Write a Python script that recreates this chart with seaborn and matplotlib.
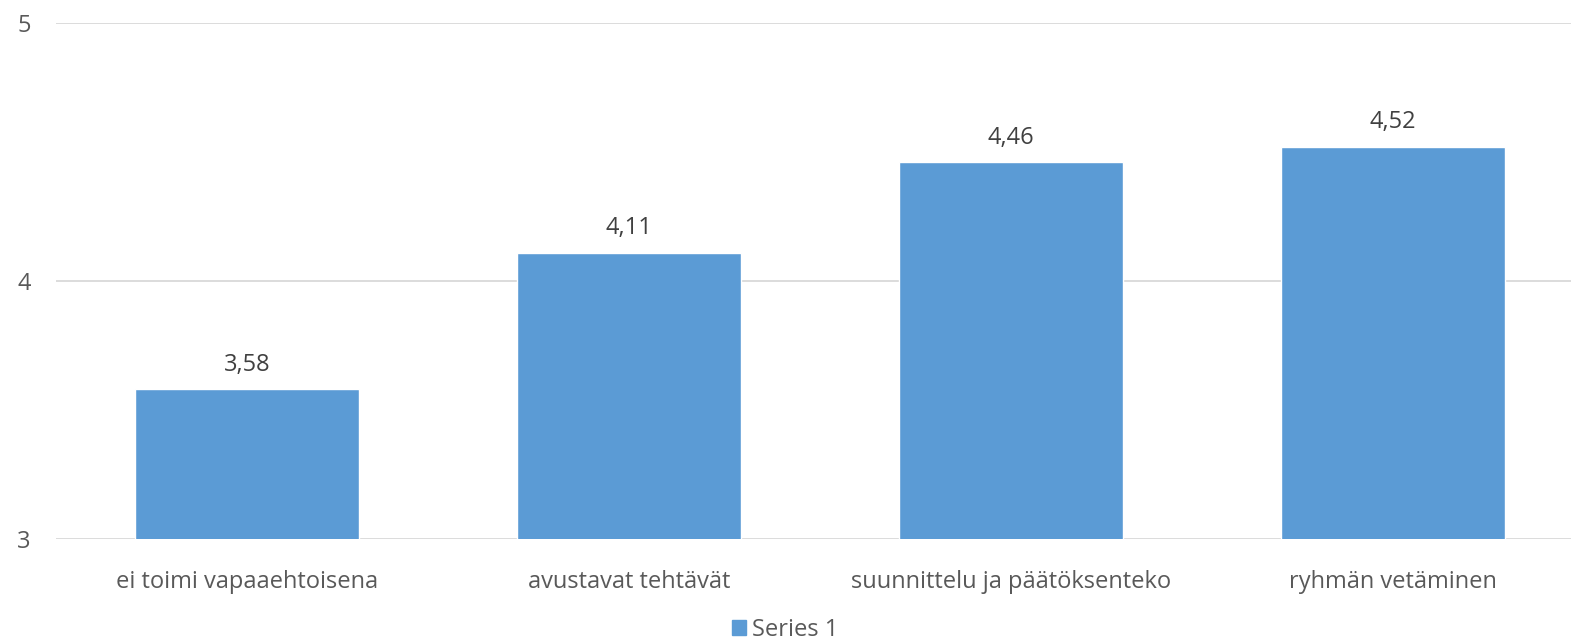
import matplotlib
matplotlib.use("Agg")
import matplotlib.pyplot as plt
import seaborn as sns
import pandas as pd
from matplotlib.patches import Patch

# --- data ---
categories = ["ei toimi vapaaehtoisena", "avustavat tehtävät",
              "suunnittelu ja päätöksenteko", "ryhmän vetäminen"]
values = [3.58, 4.11, 4.46, 4.52]
series_name = "Series 1"

BAR_COLOR = "#5B9BD5"
TEXT_COLOR = "#595959"
GRID_COLOR = "#D9D9D9"

sns.set_theme(style="white")
plt.rcParams['font.family'] = ['Open Sans', 'DejaVu Sans']

df = pd.DataFrame({"category": categories, "value": values})

fig = plt.figure(figsize=(15.71, 6.44), dpi=100)
ax = fig.add_axes([0.0356, 0.163, 0.9644, 0.801])

sns.barplot(data=df, x="category", y="value", color=BAR_COLOR,
            width=0.586, saturation=1, ax=ax, zorder=3)

ax.set_ylim(3, 5)
ax.set_xlim(-0.5, 3.466)
ax.set_yticks([3, 4, 5])
ax.set_yticklabels(["3", "4", "5"])
ax.yaxis.grid(True, color=GRID_COLOR, linewidth=1.3, zorder=0)
ax.set_axisbelow(True)
for s in ax.spines.values():
    s.set_visible(False)
ax.set_xlabel("")
ax.set_ylabel("")
ax.tick_params(axis="both", length=0, colors=TEXT_COLOR, labelsize=17)
ax.tick_params(axis="x", pad=22)
ax.tick_params(axis="y", pad=18)

labels = [f"{v:.2f}".replace(".", ",") for v in values]
ax.bar_label(ax.containers[0], labels=labels, padding=9,
             fontsize=17, color="#404040")

fig.legend(handles=[Patch(color=BAR_COLOR, label=series_name)],
           loc="lower center", bbox_to_anchor=(0.5, -0.03), frameon=False,
           fontsize=17, handlelength=0.6, handleheight=0.6, handletextpad=0.25,
           labelcolor=TEXT_COLOR)

fig.savefig("out.png", dpi=100)
